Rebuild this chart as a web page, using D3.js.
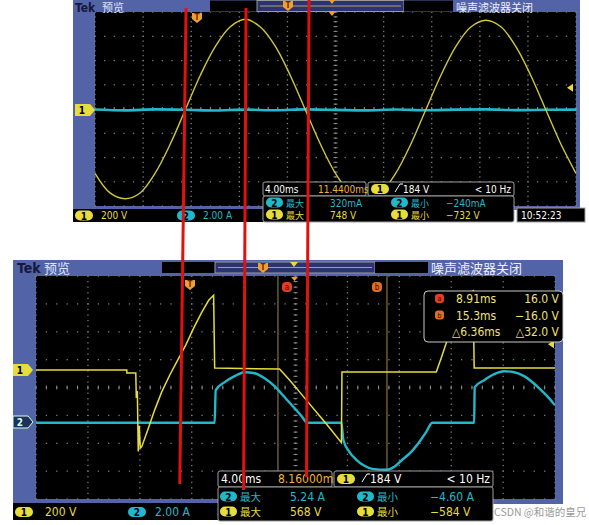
<!DOCTYPE html>
<html>
<head>
<meta charset="utf-8">
<script src="https://cdn.jsdelivr.net/npm/d3@7"></script>
<style>
body { margin: 0; background: #fff; }
text { font-family: "Liberation Sans Narrow", "DejaVu Sans Condensed", "Liberation Sans", sans-serif; }
.cjk { font-family: "Noto Sans CJK SC", sans-serif; }
</style>
</head>
<body>
<svg id="chart" width="589" height="525"></svg>
<script>
// ---- upper screen: 200 V/div, 2.00 A/div, 4 ms/div ----
var topTime = [0, 1.25, 2.5, 3.75, 5, 6.25, 7.5, 8.75, 10, 11.25, 12.5, 13.75, 15, 16.25, 17.5, 18.75,
               20, 21.25, 22.5, 23.75, 25, 26.25, 27.5, 28.75, 30, 31.25, 32.5, 33.75, 35, 36.25, 37.5, 38.75, 40];
var topVolt = [-523, -684, -732, -684, -521, -283, 0, 285, 523, 686, 748, 684, 525, 283, 0, -283,
               -523, -684, -732, -682, -523, -285, 0, 283, 523, 684, 740, 686, 523, 283, 0, -283, -523];
var topCurTime = [0, 2.5, 5, 7.5, 10, 12.5, 15, 17.5, 20, 22.5, 25, 27.5, 30, 32.5, 35, 37.5, 40];
var topCur = [0.04, -0.03, 0.05, 0.02, -0.04, 0.03, -0.02, 0.05, 0.01, -0.03, 0.04, -0.02, 0.03, 0.05, -0.01, 0.02, 0.03];

// ---- lower screen ----
var botVoltTime = [0, 7.0, 7.0, 7.69, 7.73, 7.81, 7.88, 7.96, 8.04, 8.15, 8.62, 9.15, 9.69, 10.31, 10.92, 11.54,
                   12.15, 12.77, 13.31, 13.69, 13.77, 18.77, 19.54, 20.31, 21.08, 21.85, 22.62, 23.54, 23.58,
                   30.85, 31.23, 31.62, 32.23, 32.85, 33.38, 33.69, 33.77, 40];
var botVolt = [0, 0, -21, -21, -200, -150, -584, -400, -560, -550, -429, -286, -157, -36, 71, 179,
               300, 414, 500, 536, 14, 7, -71, -157, -243, -329, -414, -521, -14,
               -14, 86, 193, 343, 464, 550, 568, 14, 14];
var botCurTime = [0, 13.77, 13.85, 14.54, 15.31, 16.08, 16.85, 17.62, 18.38, 19.15, 19.92, 20.46, 20.92,
                  23.54, 23.69, 24.15, 24.69, 25.31, 25.92, 27.0, 27.62, 28.23, 28.92, 29.54, 30.08, 30.54,
                  33.77, 33.81, 34.54, 35.31, 36.08, 36.85, 37.62, 38.77, 39.54, 40];
var botCur = [-0.05, -0.05, 2.29, 2.86, 3.29, 3.57, 3.5, 3.14, 2.57, 1.79, 1.0, 0.43, -0.05,
              -0.05, -1.29, -2.14, -2.71, -3.14, -3.36, -3.43, -3.21, -2.71, -2.14, -1.43, -0.71, -0.05,
              -0.05, 2.5, 3.0, 3.43, 3.64, 3.57, 3.29, 2.43, 1.71, 1.2];
var cursorMs = [18.65, 27.05];

// red guide lines: time on upper screen at the top end, time on lower screen at the bottom end
var redTopMs = [7.57, 12.56, 17.8];
var redBottomMs = [11.08, 16.0, 20.85];

// readouts
var topMeasure = [["2", "最大", "320mA", "2", "最小", "\u2212240mA"], ["1", "最大", "748 V", "1", "最小", "\u2212732 V"]];
var botMeasure = [["2", "最大", "5.24 A", "2", "最小", "\u22124.60 A"], ["1", "最大", "568 V", "1", "最小", "\u2212584 V"]];
var cursorRows = [["a", "8.91ms", "16.0 V"], ["b", "15.3ms", "\u221216.0 V"], ["", "\u25b36.36ms", "\u25b332.0 V"]];

var FRAME = "#5263a8", YEL = "#e6dc3c", CYN = "#22b8cc", ORG = "#f0a030";

var svg = d3.select("#chart");
svg.append("rect").attr("width", 589).attr("height", 525).attr("fill", "#fff");

function badge(g, x, y, w, txt, fill, color) {
    g.append("rect").attr("x", x).attr("y", y - 5).attr("width", w).attr("height", 10)
        .attr("rx", 5).attr("fill", fill);
    g.append("text").attr("x", x + w / 2).attr("y", y + 4).attr("text-anchor", "middle")
        .attr("font-size", 10).attr("font-weight", "bold").attr("fill", color || "#000").text(txt);
}

function grid(g, x0, y0, w, h) {
    var dx = w / 10, dy = h / 8, pts = [];
    d3.range(9).forEach(function (k) {
        d3.range(51).forEach(function (j) { pts.push([x0 + j * dx / 5, y0 + k * dy]); });
    });
    d3.range(11).forEach(function (i) {
        d3.range(41).forEach(function (j) { pts.push([x0 + i * dx, y0 + j * dy / 5]); });
    });
    g.selectAll("rect.dot").data(pts).enter().append("rect").attr("class", "dot")
        .attr("x", function (d) { return d[0] - 0.6; })
        .attr("y", function (d) { return d[1] - 0.6; })
        .attr("width", 1.3).attr("height", 1.3).attr("fill", "#7a7a7a");
    var cx = x0 + w / 2, cy = y0 + h / 2;
    g.selectAll("line.vt").data(d3.range(41)).enter().append("line").attr("class", "vt")
        .attr("x1", cx - 2).attr("x2", cx + 2)
        .attr("y1", function (j) { return y0 + j * dy / 5; })
        .attr("y2", function (j) { return y0 + j * dy / 5; })
        .attr("stroke", "#8a8a8a").attr("stroke-width", 1);
    g.selectAll("line.ht").data(d3.range(51)).enter().append("line").attr("class", "ht")
        .attr("y1", cy - 2).attr("y2", cy + 2)
        .attr("x1", function (j) { return x0 + j * dx / 5; })
        .attr("x2", function (j) { return x0 + j * dx / 5; })
        .attr("stroke", "#8a8a8a").attr("stroke-width", 1);
}

function header(g, L) {
    g.append("text").attr("x", L.tekX).attr("y", L.hy).attr("font-size", L.fs).attr("font-weight", "bold")
        .attr("fill", "#15183a").text("Tek");
    g.append("text").attr("class", "cjk").attr("x", L.tekX + 27).attr("y", L.hy).attr("font-size", L.fs - 1)
        .attr("fill", "#dde4ff").text("预览");
    g.append("rect").attr("x", L.b1[0]).attr("y", L.hy - 11).attr("width", L.b1[1] - L.b1[0]).attr("height", 11).attr("fill", "#000");
    g.append("rect").attr("x", L.b1[1]).attr("y", L.hy - 11).attr("width", L.b2[0] - L.b1[1]).attr("height", 11)
        .attr("fill", "#2b3470").attr("stroke", "#9a9a9a").attr("stroke-width", 1);
    g.append("line").attr("x1", L.b1[1] + 3).attr("x2", L.b2[0] - 3).attr("y1", L.hy - 5.5).attr("y2", L.hy - 5.5)
        .attr("stroke", "#b0a070").attr("stroke-width", 1);
    g.append("rect").attr("x", L.b2[0]).attr("y", L.hy - 11).attr("width", L.b2[1] - L.b2[0]).attr("height", 11).attr("fill", "#000");
    g.append("text").attr("class", "cjk").attr("x", L.b2[1] + 3).attr("y", L.hy).attr("font-size", L.fs - 1)
        .attr("fill", "#eef0ff").text("噪声滤波器关闭");
}

function tMarker(g, x, y) {
    g.append("path").attr("d", "M" + (x - 5) + "," + (y - 5) + "h10v6l-5,4l-5,-4z").attr("fill", ORG);
    g.append("text").attr("x", x).attr("y", y + 2).attr("text-anchor", "middle").attr("font-size", 8)
        .attr("font-weight", "bold").attr("fill", "#6a2a00").text("T");
}

function edgeText(g, x, y, txt, fs) {
    g.append("path").attr("d", "M" + x + "," + (y - 1) + "l5,-8h3").attr("fill", "none").attr("stroke", "#fff").attr("stroke-width", 1);
    g.append("text").attr("x", x + 8).attr("y", y).attr("font-size", fs).attr("fill", "#fff").text(txt);
}

// ================= upper screen =================
var T = { x: 95, y: 12, w: 481, h: 194, gnd: 110 };
var up = svg.append("g");
up.append("rect").attr("x", 73).attr("y", 0).attr("width", 507).attr("height", 210).attr("fill", FRAME);
up.append("rect").attr("x", T.x).attr("y", T.y).attr("width", T.w).attr("height", T.h).attr("fill", "#000");
grid(up, T.x, T.y, T.w, T.h);
header(up, { tekX: 75, hy: 11.5, b1: [210, 257], b2: [404, 453], fs: 12 });

var xT = d3.scaleLinear().domain([0, 40]).range([T.x, T.x + T.w]);
var yT1 = d3.scaleLinear().domain([-800, 800]).range([T.gnd + T.h / 2, T.gnd - T.h / 2]);
var yT2 = d3.scaleLinear().domain([-8, 8]).range([T.gnd + T.h / 2, T.gnd - T.h / 2]);

up.append("clipPath").attr("id", "clipT").append("rect").attr("x", T.x).attr("y", T.y).attr("width", T.w).attr("height", T.h);
var upPlot = up.append("g").attr("clip-path", "url(#clipT)");
upPlot.append("path").datum(d3.range(topCur.length))
    .attr("d", d3.line().x(function (i) { return xT(topCurTime[i]); }).y(function (i) { return yT2(topCur[i]); }).curve(d3.curveMonotoneX))
    .attr("fill", "none").attr("stroke", CYN).attr("stroke-width", 2.6);
upPlot.append("path").datum(d3.range(topVolt.length))
    .attr("d", d3.line().x(function (i) { return xT(topTime[i]); }).y(function (i) { return yT1(topVolt[i]); }).curve(d3.curveCatmullRom))
    .attr("fill", "none").attr("stroke", "#cfc83a").attr("stroke-width", 1.4);

// channel marker, trigger level, T markers
up.append("path").attr("d", "M75," + (T.gnd - 6) + "h15l5,6l-5,6h-15z").attr("fill", YEL);
up.append("text").attr("x", 82).attr("y", T.gnd + 4).attr("text-anchor", "middle").attr("font-size", 10).attr("font-weight", "bold").text("1");
up.append("path").attr("d", "M567," + yT1(184) + "l6,-4v8z").attr("fill", YEL);
tMarker(up, 197, 18);
tMarker(up, 288, 6);
up.append("path").attr("d", "M328,11h8l-4,5z").attr("fill", ORG);
up.append("path").attr("d", "M329,0h6l-3,4z").attr("fill", ORG);

// bottom bar
up.append("rect").attr("x", 73).attr("y", 209).attr("width", 191).attr("height", 13).attr("fill", "#000");
badge(up, 75, 215.5, 18, "1", YEL);
up.append("text").attr("x", 101).attr("y", 219).attr("font-size", 10).attr("fill", YEL).text("200 V");
badge(up, 177, 215.5, 18, "2", CYN);
up.append("text").attr("x", 203).attr("y", 219).attr("font-size", 10).attr("fill", CYN).text("2.00 A");

// readouts
up.append("rect").attr("x", 263).attr("y", 182).attr("width", 103).attr("height", 14).attr("fill", "#000").attr("stroke", "#a0a0a0").attr("rx", 2);
up.append("text").attr("x", 265).attr("y", 193).attr("font-size", 10).attr("fill", "#fff").text("4.00ms");
up.append("text").attr("x", 318).attr("y", 193).attr("font-size", 10).attr("fill", "#f2b43c").text("11.4400ms");
up.append("rect").attr("x", 368).attr("y", 182).attr("width", 146).attr("height", 14).attr("fill", "#000").attr("stroke", "#a0a0a0").attr("rx", 2);
badge(up, 371, 189, 18, "1", YEL);
edgeText(up, 395, 193, "184 V", 10);
up.append("text").attr("x", 511).attr("y", 193).attr("text-anchor", "end").attr("font-size", 10).attr("fill", "#fff").text("< 10 Hz");
up.append("rect").attr("x", 263).attr("y", 196).attr("width", 251).attr("height", 26).attr("fill", "#000").attr("stroke", "#a0a0a0").attr("rx", 2);
topMeasure.forEach(function (r, k) {
    var yy = 202.5 + k * 12, col = k === 0 ? CYN : YEL;
    badge(up, 266, yy, 17, r[0], col);
    up.append("text").attr("class", "cjk").attr("x", 286).attr("y", yy + 4).attr("font-size", 9).attr("fill", col).text(r[1]);
    up.append("text").attr("x", 330).attr("y", yy + 4).attr("font-size", 10).attr("fill", col).text(r[2]);
    badge(up, 391, yy, 17, r[3], col);
    up.append("text").attr("class", "cjk").attr("x", 411).attr("y", yy + 4).attr("font-size", 9).attr("fill", col).text(r[4]);
    up.append("text").attr("x", 446).attr("y", yy + 4).attr("font-size", 10).attr("fill", col).text(r[5]);
});
up.append("rect").attr("x", 517).attr("y", 208).attr("width", 68).attr("height", 14).attr("fill", "#000").attr("stroke", "#a0a0a0");
up.append("text").attr("x", 521).attr("y", 219).attr("font-size", 10).attr("fill", "#fff").text("10:52:23");

// ================= lower screen =================
var B = { x: 36, y: 276, w: 519, h: 223, gnd1: 370, gnd2: 422 };
var lo = svg.append("g");
lo.append("rect").attr("x", 13).attr("y", 260).attr("width", 550).attr("height", 244).attr("fill", FRAME);
lo.append("rect").attr("x", B.x).attr("y", B.y).attr("width", B.w).attr("height", B.h).attr("fill", "#000");
grid(lo, B.x, B.y, B.w, B.h);
header(lo, { tekX: 17, hy: 273, b1: [162, 215], b2: [375, 428], fs: 14 });

var xB = d3.scaleLinear().domain([0, 40]).range([B.x, B.x + B.w]);
var yB1 = d3.scaleLinear().domain([-800, 800]).range([B.gnd1 + B.h / 2, B.gnd1 - B.h / 2]);
var yB2 = d3.scaleLinear().domain([-8, 8]).range([B.gnd2 + B.h / 2, B.gnd2 - B.h / 2]);

lo.append("clipPath").attr("id", "clipB").append("rect").attr("x", B.x).attr("y", B.y).attr("width", B.w).attr("height", B.h);
var loPlot = lo.append("g").attr("clip-path", "url(#clipB)");
loPlot.selectAll("line.cur").data(cursorMs).enter().append("line").attr("class", "cur")
    .attr("x1", xB).attr("x2", xB).attr("y1", B.y).attr("y2", B.y + B.h)
    .attr("stroke", "#a08850").attr("stroke-width", 1);
loPlot.append("path").datum(d3.range(botCur.length))
    .attr("d", d3.line().x(function (i) { return xB(botCurTime[i]); }).y(function (i) { return yB2(botCur[i]); }).curve(d3.curveMonotoneX))
    .attr("fill", "none").attr("stroke", CYN).attr("stroke-width", 2.4);
loPlot.append("path").datum(d3.range(botVolt.length))
    .attr("d", d3.line().x(function (i) { return xB(botVoltTime[i]); }).y(function (i) { return yB1(botVolt[i]); }))
    .attr("fill", "none").attr("stroke", YEL).attr("stroke-width", 1.5);

lo.append("path").attr("d", "M13," + (B.gnd1 - 6) + "h15l5,6l-5,6h-15z").attr("fill", YEL);
lo.append("text").attr("x", 20).attr("y", B.gnd1 + 4).attr("text-anchor", "middle").attr("font-size", 10).attr("font-weight", "bold").text("1");
lo.append("path").attr("d", "M13," + (B.gnd2 - 6) + "h15l5,6l-5,6h-15z").attr("fill", "#203058").attr("stroke", "#cfe").attr("stroke-width", 1);
lo.append("text").attr("x", 20).attr("y", B.gnd2 + 4).attr("text-anchor", "middle").attr("font-size", 10).attr("font-weight", "bold").attr("fill", "#cfe").text("2");
lo.append("path").attr("d", "M548," + yB1(184) + "l6,-4v8z").attr("fill", YEL);
tMarker(lo, 190, 285);
tMarker(lo, 263, 268);
lo.append("path").attr("d", "M290,262h8l-4,5z").attr("fill", YEL);
lo.append("path").attr("d", "M291,277h7l-3.5,4z").attr("fill", ORG);
[["a", 287, "#e04020"], ["b", 377, "#e07020"]].forEach(function (c) {
    lo.append("rect").attr("x", c[1] - 5).attr("y", 282).attr("width", 10).attr("height", 10).attr("rx", 4).attr("fill", c[2]);
    lo.append("text").attr("x", c[1]).attr("y", 290).attr("text-anchor", "middle").attr("font-size", 8).attr("fill", "#400").text(c[0]);
});

// cursor readout
lo.append("rect").attr("x", 424).attr("y", 291).attr("width", 139).attr("height", 51).attr("rx", 4).attr("fill", "#000").attr("stroke", "#c8c8c8");
cursorRows.forEach(function (r, k) {
    var yy = 303 + k * 16.5;
    if (r[0]) {
        lo.append("rect").attr("x", 435).attr("y", yy - 9).attr("width", 9).attr("height", 9).attr("rx", 3).attr("fill", k === 0 ? "#e04020" : "#e07020");
        lo.append("text").attr("x", 439.5).attr("y", yy - 2).attr("text-anchor", "middle").attr("font-size", 7).attr("fill", "#300").text(r[0]);
    }
    lo.append("text").attr("x", k === 2 ? 452 : 456).attr("y", yy).attr("font-size", 12).attr("fill", "#efe27a").text(r[1]);
    lo.append("text").attr("x", 559).attr("y", yy).attr("text-anchor", "end").attr("font-size", 12).attr("fill", "#efe27a").text(r[2]);
});

// bottom bar
lo.append("rect").attr("x", 13).attr("y", 503).attr("width", 205).attr("height", 17).attr("fill", "#000");
badge(lo, 15, 512, 18, "1", YEL);
lo.append("text").attr("x", 45).attr("y", 516).attr("font-size", 12).attr("fill", YEL).text("200 V");
badge(lo, 128, 512, 18, "2", CYN);
lo.append("text").attr("x", 155).attr("y", 516).attr("font-size", 12).attr("fill", CYN).text("2.00 A");

lo.append("rect").attr("x", 218).attr("y", 471).attr("width", 114).attr("height", 16).attr("fill", "#000").attr("stroke", "#a0a0a0").attr("rx", 2);
lo.append("text").attr("x", 221).attr("y", 483).attr("font-size", 12).attr("fill", "#fff").text("4.00ms");
lo.append("text").attr("x", 278).attr("y", 483).attr("font-size", 12).attr("fill", "#f2b43c").text("8.16000ms");
lo.append("rect").attr("x", 334).attr("y", 471).attr("width", 159).attr("height", 16).attr("fill", "#000").attr("stroke", "#a0a0a0").attr("rx", 2);
badge(lo, 337, 479, 18, "1", YEL);
edgeText(lo, 362, 483, "184 V", 12);
lo.append("text").attr("x", 490).attr("y", 483).attr("text-anchor", "end").attr("font-size", 12).attr("fill", "#fff").text("< 10 Hz");
lo.append("rect").attr("x", 218).attr("y", 487).attr("width", 275).attr("height", 34).attr("fill", "#000").attr("stroke", "#a0a0a0").attr("rx", 2);
botMeasure.forEach(function (r, k) {
    var yy = 496.5 + k * 15, col = k === 0 ? CYN : YEL;
    badge(lo, 220, yy, 17, r[0], col);
    lo.append("text").attr("class", "cjk").attr("x", 240).attr("y", yy + 4.5).attr("font-size", 10.5).attr("fill", col).text(r[1]);
    lo.append("text").attr("x", 290).attr("y", yy + 4.5).attr("font-size", 12).attr("fill", col).text(r[2]);
    badge(lo, 357, yy, 17, r[3], col);
    lo.append("text").attr("class", "cjk").attr("x", 377).attr("y", yy + 4.5).attr("font-size", 10.5).attr("fill", col).text(r[4]);
    lo.append("text").attr("x", 430).attr("y", yy + 4.5).attr("font-size", 12).attr("fill", col).text(r[5]);
});
lo.append("text").attr("class", "cjk").attr("x", 494).attr("y", 516).attr("font-size", 10.5).attr("fill", "#9a9a9a").text("CSDN @和谐的皇兄");

// ================= red guide lines =================
var redEnds = [[8, 484], [8, 490], [0, 477]];
svg.selectAll("line.red").data(redTopMs).enter().append("line").attr("class", "red")
    .attr("x1", function (d) { return xT(d); })
    .attr("x2", function (d, i) { return xB(redBottomMs[i]); })
    .attr("y1", function (d, i) { return redEnds[i][0]; })
    .attr("y2", function (d, i) { return redEnds[i][1]; })
    .attr("stroke", "#e0120e").attr("stroke-width", 3);
</script>
</body>
</html>
